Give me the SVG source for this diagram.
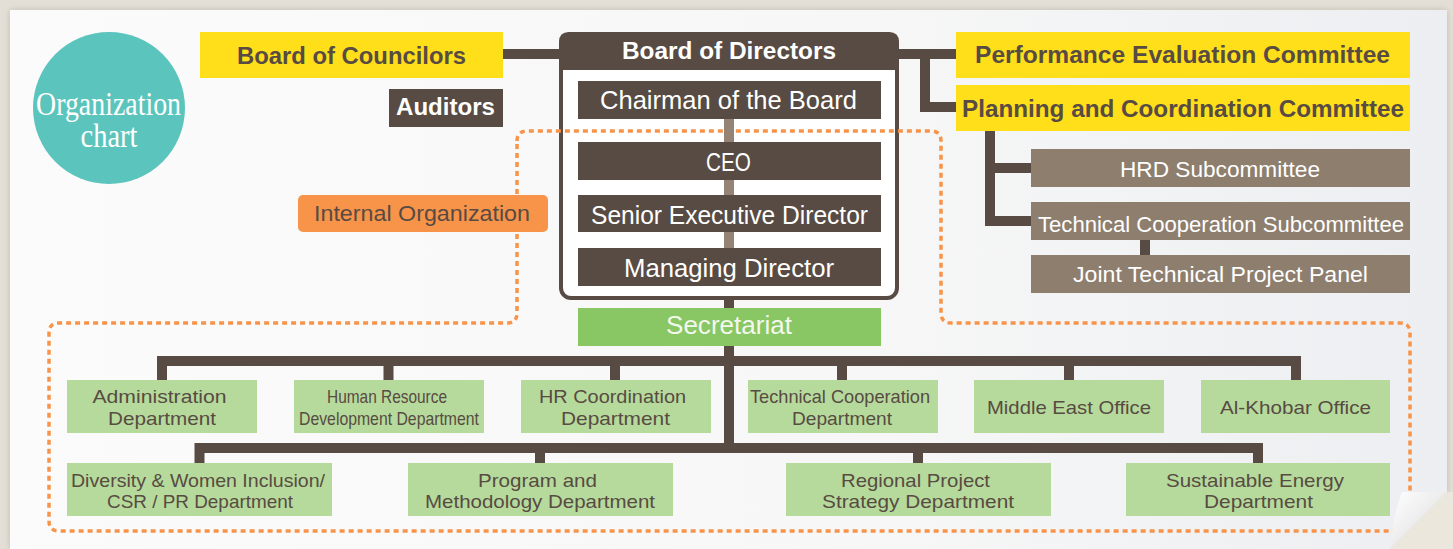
<svg xmlns="http://www.w3.org/2000/svg" width="1453" height="549" viewBox="0 0 1453 549">
<defs>
<linearGradient id="paper" x1="0" y1="0" x2="1" y2="0">
<stop offset="0" stop-color="#fbfbfb"/>
<stop offset="0.6" stop-color="#f7f7f7"/>
<stop offset="1" stop-color="#eceef1"/>
</linearGradient>
<linearGradient id="curl" x1="0" y1="0" x2="1" y2="1">
<stop offset="0" stop-color="#ffffff"/>
<stop offset="0.45" stop-color="#eeeeef"/>
<stop offset="1" stop-color="#c9c9cc"/>
</linearGradient>
<filter id="shadow" x="-5%" y="-5%" width="110%" height="110%">
<feDropShadow dx="0" dy="0" stdDeviation="3" flood-color="#a9a396" flood-opacity="0.6"/>
</filter>
<style>
.bold{font-family:"Liberation Sans",Arial,sans-serif;font-weight:bold;font-size:24px;text-anchor:middle}
.reg{font-family:"Liberation Sans",Arial,sans-serif;font-size:25px;text-anchor:middle}
.sub{font-family:"Liberation Sans",Arial,sans-serif;font-size:22px;text-anchor:middle;fill:#ffffff}
.dept{font-family:"Liberation Sans",Arial,sans-serif;font-size:18.5px;text-anchor:middle;fill:#584b43}
.dark{fill:#584b43}
.white{fill:#ffffff}
.yellow{fill:#ffdf1a}
.taupe{fill:#8e7e6e}
.lgreen{fill:#b6da9b}
.conn{fill:none;stroke:#584b43;stroke-width:10;stroke-linejoin:miter;stroke-linecap:butt}
</style>
</defs>

<!-- background and paper -->
<rect x="0" y="0" width="1453" height="549" fill="#e3dfd6"/>
<path d="M10 10 H1447 V492 L1390 549 H10 Z" fill="url(#paper)" filter="url(#shadow)"/>

<!-- title circle -->
<g id="title">
<circle cx="109" cy="108" r="76" fill="#5bc5bd"/>
<text x="108.5" y="115" font-family="'Liberation Serif','Times New Roman',serif" font-size="34" fill="#ffffff" text-anchor="middle" textLength="145" lengthAdjust="spacingAndGlyphs">Organization</text>
<text x="109" y="147" font-family="'Liberation Serif','Times New Roman',serif" font-size="34" fill="#ffffff" text-anchor="middle" textLength="57" lengthAdjust="spacingAndGlyphs">chart</text>
</g>

<!-- Board of Directors frame -->
<g id="board-of-directors">
<rect x="561" y="34" width="336" height="264" rx="10" fill="#ffffff" stroke="#584b43" stroke-width="4"/>
<path d="M559 70 V42 Q559 32 569 32 H889 Q899 32 899 42 V70 Z" fill="#584b43"/>
<text class="bold white" x="729" y="59" textLength="214" lengthAdjust="spacingAndGlyphs">Board of Directors</text>
</g>

<!-- internal organization boundary -->
<g id="internal-boundary">
<path d="M517 141 Q517 131 527 131 H931 Q941 131 941 141 V313 Q941 323 951 323 H1400 Q1410 323 1410 333 V521 Q1410 531 1400 531 H59 Q49 531 49 521 V333 Q49 323 59 323 H507 Q517 323 517 313 Z" fill="none" stroke="#f7944a" stroke-width="3.5" stroke-dasharray="5 4"/>
</g>

<!-- connectors -->
<g id="connectors">
<path d="M729 119 V248" fill="none" stroke="#958476" stroke-width="10"/>
<path class="conn" d="M503 54 H561"/>
<path class="conn" d="M897 54 H958 M925 54 V107 H958"/>
<path class="conn" d="M990 131 V221 H1032 M990 168 H1032"/>
<path class="conn" d="M1145 240 V255"/>
<path class="conn" d="M729 298 V308 M729 346 V453"/>
<path class="conn" d="M162 380 V361 H1296 V380 M388.5 361 V380 M615 361 V380 M842 361 V380 M1069 361 V380"/>
<path class="conn" d="M199.5 463 V448 H1258 V463 M540 448 V463 M918 448 V463"/>
</g>

<!-- top nodes -->
<g id="board-of-councilors">
<rect class="yellow" x="200" y="32" width="303" height="46"/>
<text class="bold dark" x="351.5" y="64" textLength="229" lengthAdjust="spacingAndGlyphs">Board of Councilors</text>
</g>
<g id="auditors">
<rect class="dark" x="389" y="89" width="114" height="38"/>
<text class="bold white" x="445.5" y="115" textLength="99" lengthAdjust="spacingAndGlyphs">Auditors</text>
</g>
<g id="chairman">
<rect class="dark" x="578" y="81" width="303" height="38"/>
<text class="reg white" x="728.5" y="109" textLength="257" lengthAdjust="spacingAndGlyphs">Chairman of the Board</text>
</g>
<g id="ceo">
<rect class="dark" x="578" y="142" width="303" height="38"/>
<text class="reg white" x="728.5" y="171" textLength="45" lengthAdjust="spacingAndGlyphs">CEO</text>
</g>
<g id="senior-executive-director">
<rect class="dark" x="578" y="195" width="303" height="37"/>
<text class="reg white" x="729.5" y="224" textLength="277" lengthAdjust="spacingAndGlyphs">Senior Executive Director</text>
</g>
<g id="managing-director">
<rect class="dark" x="578" y="248" width="303" height="38"/>
<text class="reg white" x="729" y="277" textLength="210" lengthAdjust="spacingAndGlyphs">Managing Director</text>
</g>
<g id="secretariat">
<rect x="578" y="308" width="303" height="38" fill="#89c664"/>
<text class="reg" x="729" y="334" fill="#f2f8ec" textLength="126" lengthAdjust="spacingAndGlyphs">Secretariat</text>
</g>
<g id="performance-evaluation-committee">
<rect class="yellow" x="956" y="32" width="454" height="46"/>
<text class="bold dark" x="1182.5" y="63" textLength="415" lengthAdjust="spacingAndGlyphs">Performance Evaluation Committee</text>
</g>
<g id="planning-coordination-committee">
<rect class="yellow" x="956" y="85" width="454" height="46"/>
<text class="bold dark" x="1183" y="117" textLength="442" lengthAdjust="spacingAndGlyphs">Planning and Coordination Committee</text>
</g>
<g id="hrd-subcommittee">
<rect class="taupe" x="1031" y="149" width="379" height="38"/>
<text class="sub" x="1220" y="177" textLength="200" lengthAdjust="spacingAndGlyphs">HRD Subcommittee</text>
</g>
<g id="technical-cooperation-subcommittee">
<rect class="taupe" x="1031" y="202" width="379" height="38"/>
<text class="sub" x="1221" y="232" textLength="366" lengthAdjust="spacingAndGlyphs">Technical Cooperation Subcommittee</text>
</g>
<g id="joint-technical-project-panel">
<rect class="taupe" x="1031" y="255" width="379" height="38"/>
<text class="sub" x="1220.5" y="282" textLength="295" lengthAdjust="spacingAndGlyphs">Joint Technical Project Panel</text>
</g>
<g id="internal-organization">
<rect x="298" y="195" width="250" height="37" rx="5" fill="#f7944a"/>
<text class="sub" x="422" y="221" style="fill:#584b43" textLength="216" lengthAdjust="spacingAndGlyphs">Internal Organization</text>
</g>

<!-- departments upper row -->
<g id="administration-department">
<rect class="lgreen" x="67" y="380" width="190" height="53"/>
<text class="dept" x="159.5" y="403" textLength="134" lengthAdjust="spacingAndGlyphs">Administration</text>
<text class="dept" x="162" y="425" textLength="108" lengthAdjust="spacingAndGlyphs">Department</text>
</g>
<g id="hr-development-department">
<rect class="lgreen" x="294" y="380" width="190" height="53"/>
<text class="dept" x="387" y="403" textLength="120" lengthAdjust="spacingAndGlyphs">Human Resource</text>
<text class="dept" x="389" y="425" textLength="180" lengthAdjust="spacingAndGlyphs">Development Department</text>
</g>
<g id="hr-coordination-department">
<rect class="lgreen" x="521" y="380" width="190" height="53"/>
<text class="dept" x="612.5" y="403" textLength="147" lengthAdjust="spacingAndGlyphs">HR Coordination</text>
<text class="dept" x="615.5" y="425" textLength="109" lengthAdjust="spacingAndGlyphs">Department</text>
</g>
<g id="technical-cooperation-department">
<rect class="lgreen" x="748" y="380" width="190" height="53"/>
<text class="dept" x="840" y="403" textLength="180" lengthAdjust="spacingAndGlyphs">Technical Cooperation</text>
<text class="dept" x="842" y="425" textLength="100" lengthAdjust="spacingAndGlyphs">Department</text>
</g>
<g id="middle-east-office">
<rect class="lgreen" x="974" y="380" width="190" height="53"/>
<text class="dept" x="1069" y="414" textLength="164" lengthAdjust="spacingAndGlyphs">Middle East Office</text>
</g>
<g id="al-khobar-office">
<rect class="lgreen" x="1201" y="380" width="189" height="53"/>
<text class="dept" x="1295.5" y="414" textLength="151" lengthAdjust="spacingAndGlyphs">Al-Khobar Office</text>
</g>

<!-- departments lower row -->
<g id="diversity-department">
<rect class="lgreen" x="67" y="463" width="265" height="53"/>
<text class="dept" x="198" y="487" textLength="254" lengthAdjust="spacingAndGlyphs">Diversity &amp; Women Inclusion/</text>
<text class="dept" x="200" y="508" textLength="186" lengthAdjust="spacingAndGlyphs">CSR / PR Department</text>
</g>
<g id="program-methodology-department">
<rect class="lgreen" x="408" y="463" width="265" height="53"/>
<text class="dept" x="537.5" y="487" textLength="119" lengthAdjust="spacingAndGlyphs">Program and</text>
<text class="dept" x="540" y="508" textLength="230" lengthAdjust="spacingAndGlyphs">Methodology Department</text>
</g>
<g id="regional-project-strategy-department">
<rect class="lgreen" x="786" y="463" width="265" height="53"/>
<text class="dept" x="915.5" y="487" textLength="149" lengthAdjust="spacingAndGlyphs">Regional Project</text>
<text class="dept" x="918" y="508" textLength="192" lengthAdjust="spacingAndGlyphs">Strategy Department</text>
</g>
<g id="sustainable-energy-department">
<rect class="lgreen" x="1126" y="463" width="264" height="53"/>
<text class="dept" x="1255" y="487" textLength="178" lengthAdjust="spacingAndGlyphs">Sustainable Energy</text>
<text class="dept" x="1258.5" y="508" textLength="109" lengthAdjust="spacingAndGlyphs">Department</text>
</g>

<!-- page curl -->
<path d="M1447 492 L1453 492 V549 H1390 Z" fill="#ebe7dd"/>
<path d="M1402 492 H1447 L1390 549 Q1393 515 1402 492 Z" fill="url(#curl)"/>
</svg>
